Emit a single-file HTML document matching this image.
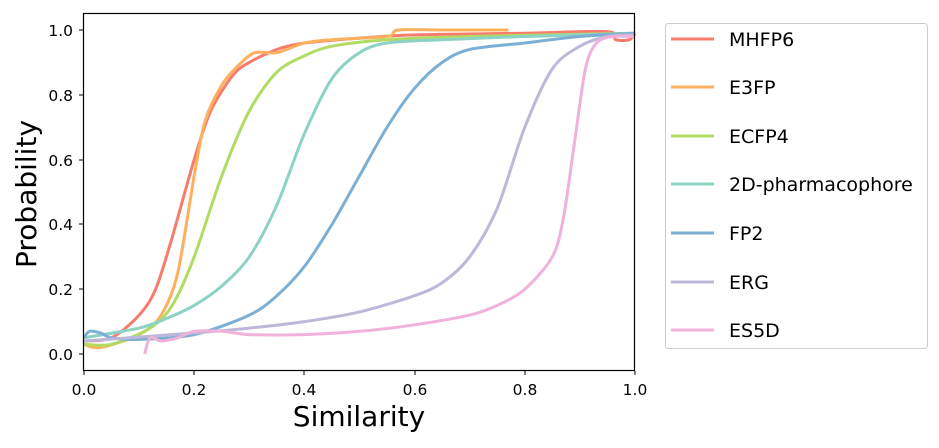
<!DOCTYPE html>
<html><head><meta charset="utf-8"><style>
body{margin:0;background:#fff;width:939px;height:443px;overflow:hidden}
text{font-family:"DejaVu Sans","Liberation Sans",sans-serif;fill:#000}
</style></head><body>
<svg id="s" width="939" height="443" xmlns="http://www.w3.org/2000/svg">
<g id="lines" fill="none" stroke-width="3" stroke-linejoin="round" stroke-linecap="butt"></g>
<rect x="83.5" y="13.5" width="551" height="357" fill="none" stroke="#000" stroke-width="1.2"/>
<g stroke="#000" stroke-width="1">
<line x1="84" y1="371" x2="84" y2="375"/><line x1="194" y1="371" x2="194" y2="375"/><line x1="304" y1="371" x2="304" y2="375"/><line x1="415" y1="371" x2="415" y2="375"/><line x1="525" y1="371" x2="525" y2="375"/><line x1="635" y1="371" x2="635" y2="375"/>
<line x1="79" y1="354" x2="83" y2="354"/><line x1="79" y1="289" x2="83" y2="289"/><line x1="79" y1="224" x2="83" y2="224"/><line x1="79" y1="160" x2="83" y2="160"/><line x1="79" y1="95" x2="83" y2="95"/><line x1="79" y1="30" x2="83" y2="30"/>
</g>
<g font-size="15.5" text-anchor="middle">
<text x="84" y="395">0.0</text><text x="194" y="395">0.2</text><text x="304" y="395">0.4</text><text x="415" y="395">0.6</text><text x="525" y="395">0.8</text><text x="635" y="395">1.0</text>
</g>
<g font-size="15.5" text-anchor="end">
<text x="73" y="360">0.0</text><text x="73" y="295">0.2</text><text x="73" y="230">0.4</text><text x="73" y="166">0.6</text><text x="73" y="101">0.8</text><text x="73" y="36">1.0</text>
</g>
<text x="359" y="426" font-size="28" text-anchor="middle">Similarity</text>
<text transform="translate(36,194) rotate(-90)" font-size="28" text-anchor="middle">Probability</text>
<rect x="665.5" y="23.5" width="262" height="325" rx="3" fill="#fff" stroke="#ccc" stroke-width="1"/>
<g stroke-width="3">
<line x1="671" y1="39" x2="714" y2="39" stroke="#f87c6c"/>
<line x1="671" y1="87" x2="714" y2="87" stroke="#fdb05e"/>
<line x1="671" y1="136" x2="714" y2="136" stroke="#b0dc64"/>
<line x1="671" y1="184" x2="714" y2="184" stroke="#8cd3c5"/>
<line x1="671" y1="233" x2="714" y2="233" stroke="#7cafd3"/>
<line x1="671" y1="282" x2="714" y2="282" stroke="#bdb8da"/>
<line x1="671" y1="330" x2="714" y2="330" stroke="#f0b2da"/>
</g>
<g font-size="19">
<text x="729" y="46">MHFP6</text><text x="729" y="94">E3FP</text><text x="729" y="143">ECFP4</text><text x="729" y="191">2D-pharmacophore</text><text x="729" y="240">FP2</text><text x="729" y="289">ERG</text><text x="729" y="337">ES5D</text>
</g>
</svg>
<script>
var S={
"#f87c6c":[[0,.04],[.05,.05],[.1,.12],[.13,.2],[.16,.36],[.2,.6],[.23,.75],[.27,.86],[.3,.9],[.35,.94],[.4,.96],[.5,.975],[.6,.985],[.8,.99],[.95,.995],[.965,.97],[.99,.97],[1,.99]],
"#fdb05e":[[0,.03],[.03,.02],[.1,.06],[.14,.12],[.17,.25],[.2,.55],[.22,.72],[.25,.83],[.28,.89],[.31,.93],[.35,.93],[.4,.96],[.45,.97],[.55,.98],[.57,1],[.65,1],[.77,1]],
"#b0dc64":[[0,.03],[.05,.03],[.12,.08],[.16,.15],[.2,.3],[.25,.55],[.3,.75],[.35,.87],[.4,.92],[.45,.95],[.55,.97],[.7,.98],[1,.99]],
"#8cd3c5":[[0,.05],[.1,.08],[.15,.11],[.2,.15],[.25,.21],[.3,.3],[.35,.46],[.4,.68],[.45,.85],[.5,.93],[.55,.96],[.65,.97],[.8,.98],[1,.99]],
"#7cafd3":[[0,.05],[.01,.07],[.03,.065],[.05,.05],[.1,.045],[.2,.06],[.3,.12],[.35,.18],[.4,.27],[.45,.4],[.5,.55],[.55,.7],[.6,.82],[.65,.9],[.7,.94],[.8,.96],[.9,.98],[1,.99]],
"#bdb8da":[[0,.04],[.2,.065],[.3,.08],[.4,.1],[.5,.13],[.6,.18],[.65,.22],[.7,.3],[.75,.45],[.8,.7],[.85,.88],[.9,.95],[.95,.98],[1,.985]],
"#f0b2da":[[.11,0],[.12,.05],[.14,.04],[.17,.05],[.2,.07],[.25,.07],[.3,.06],[.4,.06],[.5,.07],[.6,.09],[.7,.12],[.75,.15],[.8,.2],[.85,.3],[.87,.42],[.89,.65],[.91,.88],[.93,.96],[.96,.98],[1,.98]]};
var g=document.getElementById("lines");
function P(d){return[84+d[0]*551,354-d[1]*324];}
for(var c in S){var a=S[c].map(P),s="M"+a[0][0].toFixed(1)+","+a[0][1].toFixed(1);
for(var i=0;i<a.length-1;i++){var p0=a[i-1]||a[i],p1=a[i],p2=a[i+1],p3=a[i+2]||p2,t=0.15;
s+=" C"+(p1[0]+(p2[0]-p0[0])*t).toFixed(1)+","+(p1[1]+(p2[1]-p0[1])*t).toFixed(1)+" "+(p2[0]-(p3[0]-p1[0])*t).toFixed(1)+","+(p2[1]-(p3[1]-p1[1])*t).toFixed(1)+" "+p2[0].toFixed(1)+","+p2[1].toFixed(1);}
var p=document.createElementNS("http://www.w3.org/2000/svg","path");p.setAttribute("stroke",c);p.setAttribute("d",s);g.appendChild(p);}
</script>
</body></html>
